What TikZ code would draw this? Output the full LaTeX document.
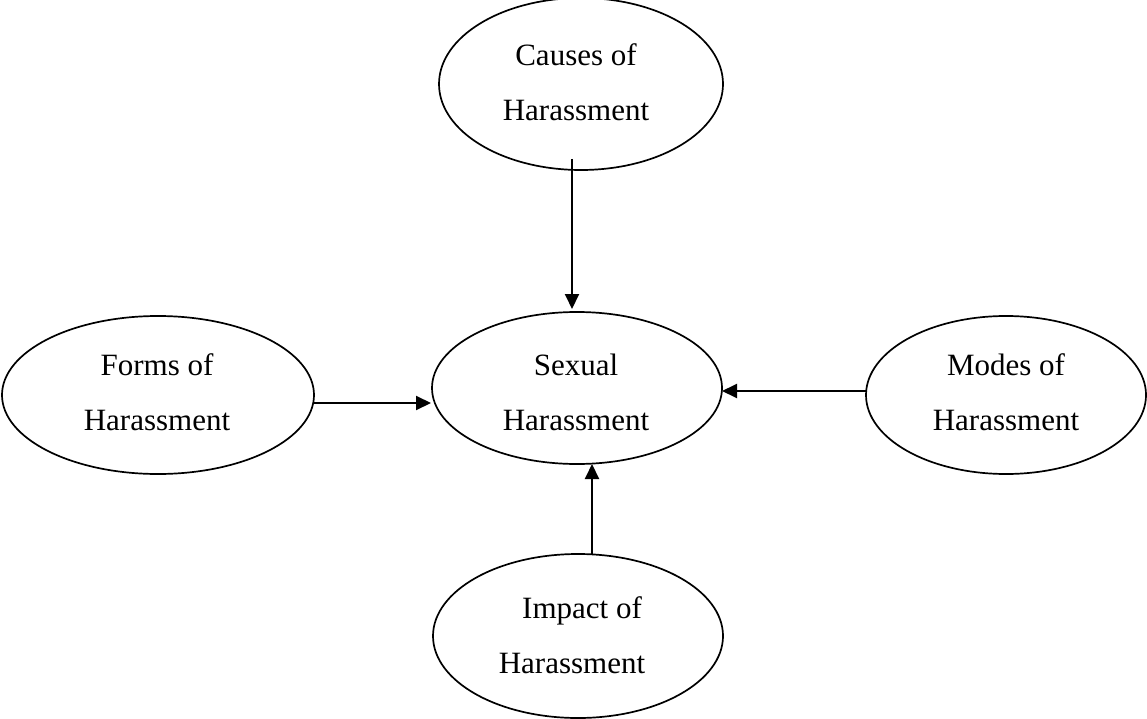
\documentclass[tikz,border=0pt]{standalone}
\usepackage{fontspec}
\setmainfont{Liberation Serif}
\usetikzlibrary{shapes.geometric,arrows.meta,calc}
\tikzset{
  oval/.style={ellipse, draw=black, line width=1.7pt, inner sep=0pt, outer sep=0pt},
  lbl/.style={align=center, inner sep=0pt, font=\fontsize{31}{55}\selectfont},
  arr/.style={line width=2pt, -{Triangle[length=15pt,width=14pt]}}
}
\begin{document}
\begin{tikzpicture}[x=1pt,y=-1pt]
\useasboundingbox (0,0) rectangle (1147,719);
% ellipses
\node[oval, minimum width=284pt, minimum height=172pt] (causes) at (581,84) {};
\node[oval, minimum width=290pt, minimum height=152pt] (sexual) at (577,388) {};
\node[oval, minimum width=312pt, minimum height=158pt] (forms) at (158,395) {};
\node[oval, minimum width=280pt, minimum height=158pt] (modes) at (1006,395) {};
\node[oval, minimum width=290pt, minimum height=164pt] (impact) at (578,636) {};
% texts
\node[lbl] (tcauses) at (576,82) {Causes of\\Harassment};
\node[lbl] (tsexual) at (576,392) {Sexual\\Harassment};
\node[lbl] (tforms) at (157,392) {Forms of\\Harassment};
\node[lbl] (tmodes) at (1006,392) {Modes of\\Harassment};
\node[lbl] (timpact) at (572,635) {\hspace*{20pt}Impact of\\Harassment};
% arrows
\draw[arr] ($(causes.south)+(-9,-11)$) -- ($(sexual.north)+(-5,-3)$);
\draw[arr] ($(forms.east)+(0,8)$) -- ($(sexual.west)+(-1,15)$);
\draw[arr] ($(modes.west)+(0,-4)$) -- ($(sexual.east)+(0,3)$);
\draw[arr] ($(impact.north)+(14,0)$) -- ($(sexual.south)+(15,0)$);
\end{tikzpicture}
\end{document}
